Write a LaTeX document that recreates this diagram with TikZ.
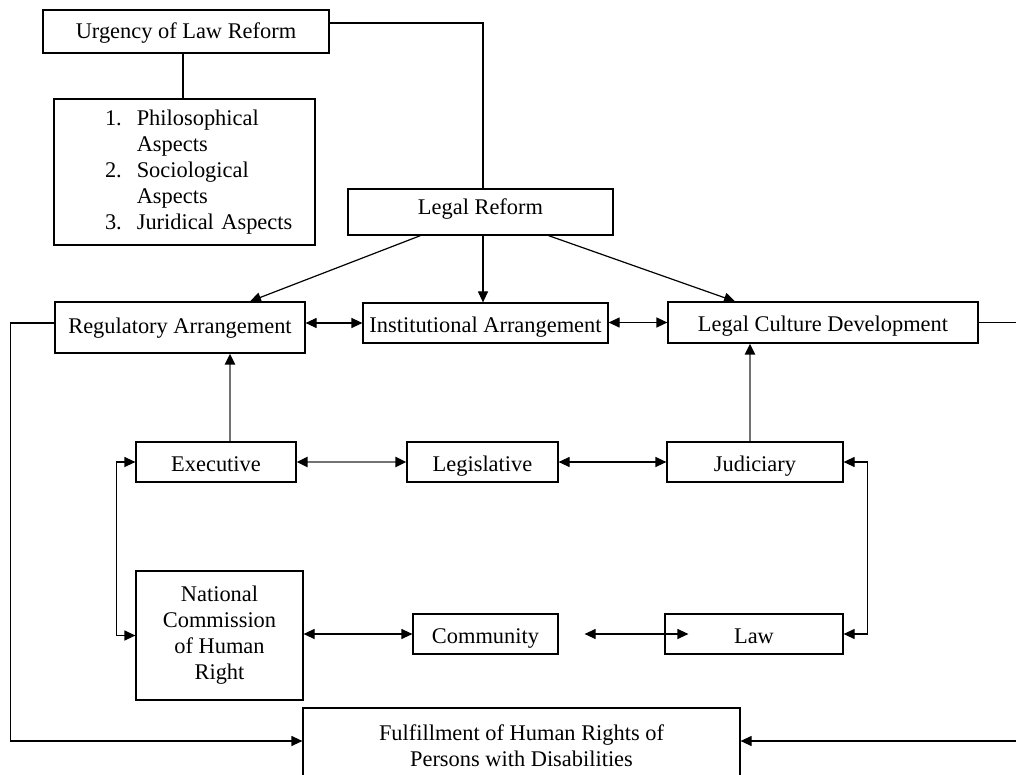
\documentclass[tikz,border=0pt]{standalone}
\usepackage{fontspec}
\setmainfont{Liberation Serif}
\usetikzlibrary{arrows.meta}

\begin{document}
\begin{tikzpicture}[x=1pt, y=-1pt, >={Triangle[length=11pt,width=10pt]},
       line width=1.2pt, font=\fontsize{22.4}{26}\selectfont]

\tikzstyle{box} = [draw, rectangle, inner sep=2pt, align=center]
\tikzstyle{line1} = [box, text height=20pt, text depth=2pt]
\tikzstyle{gline} = [draw=black!55, line width=2.4pt, >={Triangle[length=11pt,width=10pt,color=black]}]

\useasboundingbox (0,0) rectangle (1016,775);
\clip (0,0) rectangle (1016,775);

    % top part
    \node[line1, minimum width=286pt, minimum height=43pt, text height=18pt, text depth=3pt] (urg) at (186,31.5) {Urgency of Law Reform};
    \node[box, text width=257pt, minimum height=146pt, align=left] (aspects) at (184.5,172)
        {\hspace*{49pt}\begin{tabular}{@{}l@{\hspace{15pt}}l@{}}
            1. & Philosophical\\ & Aspects\\
            2. & Sociological\\ & Aspects\\
            3. & Juridical Aspects
         \end{tabular}};
    \node[line1, minimum width=265pt, minimum height=46pt, text height=14pt, text depth=8pt] (reform) at (480.5,212) {Legal Reform};

    % arrangements
    \node[line1, minimum width=250pt, minimum height=51pt, text height=15pt, text depth=4pt] (reg) at (180,327.5) {Regulatory Arrangement};
    \node[line1, minimum width=245pt, minimum height=40pt] (inst) at (485.5,323) {Institutional Arrangement};
    \node[line1, minimum width=310pt, minimum height=41pt] (cult) at (823,322.5) {Legal Culture Development};

    % institutions
    \node[line1, minimum width=160pt, minimum height=40pt] (exec) at (216,462) {Executive};
    \node[line1, minimum width=151pt, minimum height=40pt] (leg) at (482.5,462) {Legislative};
    \node[line1, minimum width=176pt, minimum height=40pt] (jud) at (755,462) {Judiciary};

    \node[box, minimum width=167pt, minimum height=129pt] (nchr) at (219.5,635.5) {National\\Commission\\of Human\\Right};
    \node[line1, minimum width=145pt, minimum height=40pt] (comm) at (485.5,634) {Community};
    \node[line1, minimum width=178pt, minimum height=40pt] (law) at (754,634) {Law};

    % goal
    \node[box, minimum width=437pt, minimum height=76pt] (ful) at (521.5,746)
        {Fulfillment of Human Rights of\\Persons with Disabilities};

    % lines from the top
    \draw ([yshift=8.5pt]urg.east) -| ([xshift=2.5pt]reform.north);
    \draw ([xshift=-3pt]urg.south) -- ([xshift=-3pt]urg.south |- aspects.north);

    \draw[->] ([xshift=-60pt]reform.south) -- ([xshift=70pt]reg.north);
    \draw[->] ([xshift=2.5pt]reform.south) -- ([xshift=2.5pt]reform.south |- inst.north);
    \draw[->] ([xshift=68pt]reform.south) -- ([xshift=-88pt]cult.north);

    % double arrows along the rows
    \foreach \a/\b in {reg/inst, inst/cult}
        \draw[<->] (\b.west -| \a.east) -- (\b.west);
    \draw[<->, gline] (exec.east) -- (leg.west);
    \draw[<->] (leg.east) -- (jud.west);
    \draw[<->] (comm.west -| nchr.east) -- (comm.west);
    \draw[<->] ([xshift=26pt]comm.east) -- ([xshift=24pt]law.west);

    % upward gray arrows
    \draw[->, gline] ([xshift=14pt]exec.north) -- ([xshift=14pt]exec.north |- reg.south);
    \draw[->, gline] ([xshift=-5pt]jud.north) -- ([xshift=-5pt]jud.north |- cult.south);

    % side brackets
    \draw[<->] (exec.west) -- ++(-19,0) |- (nchr.west);
    \draw[<->] (jud.east) -- ++(24,0) |- (law.east);

    % outer loops to the goal
    \draw[->] (reg.west |- inst.west) -- ++(-44,0) |- ([yshift=5pt]ful.west);
    \draw[->] (cult.east) -- ++(45,0) |- ([yshift=5pt]ful.east);

\end{tikzpicture}
\end{document}
